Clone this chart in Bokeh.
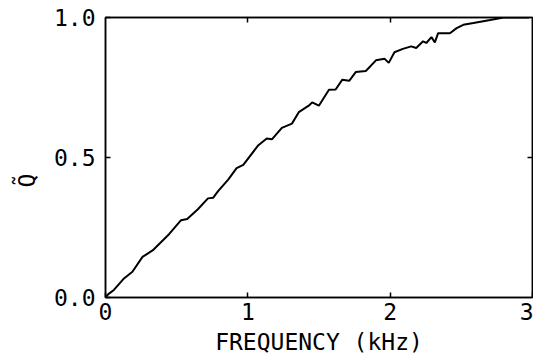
import math
from bokeh.plotting import figure
from bokeh.models import Range1d, LinearAxis, FixedTicker, Title
from bokeh.embed import file_html
from bokeh.resources import INLINE

# Data
freq_khz = [0.0, 0.02, 0.059, 0.130, 0.189, 0.260, 0.331, 0.448, 0.531, 0.574, 0.649,
            0.720, 0.756, 0.791, 0.862, 0.921, 0.968, 1.074, 1.133, 1.169, 1.239,
            1.310, 1.358, 1.428, 1.452, 1.499, 1.570, 1.617, 1.664, 1.712, 1.758,
            1.829, 1.900, 1.960, 1.990, 2.030, 2.089, 2.148, 2.183, 2.231, 2.254,
            2.290, 2.314, 2.337, 2.420, 2.467, 2.514, 2.585, 2.703, 2.797, 2.904, 2.975]
q_tilde = [0.0, 0.012, 0.027, 0.068, 0.092, 0.145, 0.168, 0.227, 0.276, 0.280, 0.315,
           0.354, 0.356, 0.380, 0.421, 0.462, 0.474, 0.544, 0.568, 0.565, 0.606,
           0.621, 0.662, 0.685, 0.697, 0.685, 0.742, 0.743, 0.778, 0.774, 0.805,
           0.809, 0.847, 0.853, 0.838, 0.876, 0.888, 0.897, 0.891, 0.915, 0.909,
           0.930, 0.911, 0.944, 0.944, 0.962, 0.974, 0.980, 0.991, 1.0, 1.0, 1.0]

x_ticks = [0, 1, 2, 3]
y_ticks = [0.0, 0.5, 1.0]
y_tick_labels = {0: "0.0", 0.5: "0.5", 1: "1.0"}
x_label = "FREQUENCY (kHz)"
y_label = "Q\u0303"

FONT = "DejaVu Sans Mono"

p = figure(width=533, height=357, output_backend="svg", toolbar_location=None,
           x_range=Range1d(0, 3), y_range=Range1d(0, 1),
           min_border_left=105, min_border_right=1, min_border_top=17, min_border_bottom=56,
           x_axis_location=None, y_axis_location=None)
p.grid.visible = False
p.outline_line_color = "black"
p.outline_line_width = 1.5
p.background_fill_color = "white"
p.border_fill_color = "white"

p.line(freq_khz, q_tilde, line_color="black", line_width=2)

def style(ax):
    ax.axis_line_color = "black"
    ax.axis_line_width = 1.5
    ax.major_tick_in = 5
    ax.major_tick_out = 0
    ax.major_tick_line_color = "black"
    ax.major_tick_line_width = 1.5
    ax.minor_tick_line_color = None
    ax.major_label_text_font = FONT
    ax.major_label_text_font_size = "23px"
    ax.major_label_text_color = "black"
    ax.axis_label_text_font = FONT
    ax.axis_label_text_font_size = "23px"
    ax.axis_label_text_font_style = "normal"
    ax.axis_label_text_color = "black"

bottom = LinearAxis(ticker=FixedTicker(ticks=x_ticks), axis_label=x_label)
style(bottom)
bottom.major_label_standoff = 5
bottom.axis_label_standoff = 6
p.add_layout(bottom, "below")

left = LinearAxis(ticker=FixedTicker(ticks=y_ticks), major_label_overrides=y_tick_labels)
style(left)
left.major_label_standoff = 10
p.add_layout(left, "left")

top = LinearAxis(ticker=FixedTicker(ticks=[1, 2]), major_label_overrides={1: "", 2: ""})
style(top)
top.major_label_standoff = 0
p.add_layout(top, "above")

right = LinearAxis(ticker=FixedTicker(ticks=[0.5]), major_label_overrides={0.5: ""})
style(right)
right.major_label_standoff = 0
p.add_layout(right, "right")

ytitle = Title(text=y_label, align="left", offset=110, text_font=FONT,
               text_font_size="23px", text_font_style="normal", text_color="black",
               standoff=22)
p.add_layout(ytitle, "left")

open("out.html", "w").write(file_html(p, INLINE))
